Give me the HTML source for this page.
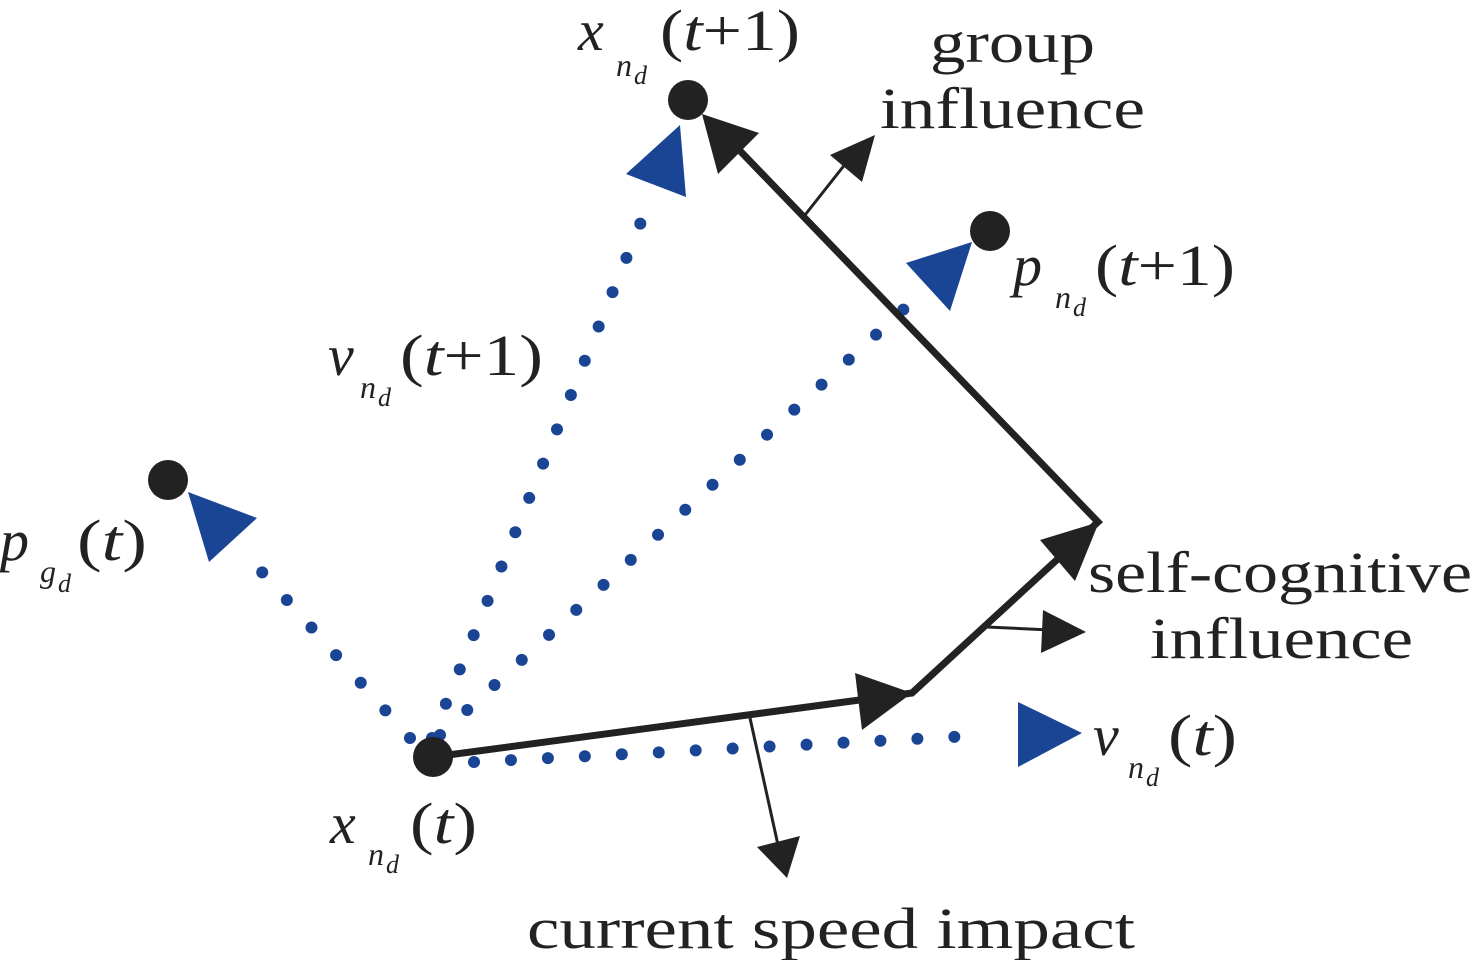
<!DOCTYPE html>
<html><head><meta charset="utf-8"><style>html,body{margin:0;padding:0;background:#fff;}svg{display:block}text{font-family:"Liberation Serif",serif;}</style></head>
<body>
<svg width="1480" height="960" viewBox="0 0 1480 960" xmlns="http://www.w3.org/2000/svg" fill="#222">
<g stroke="#1a4494" stroke-width="12" stroke-linecap="round" stroke-dasharray="0 37" fill="none">
<line x1="432" y1="738" x2="645" y2="212"/>
<line x1="440" y1="735" x2="905" y2="308"/>
<line x1="410" y1="738" x2="253" y2="562"/>
<line x1="474" y1="762" x2="990" y2="735"/>
</g>
<g fill="#1a4494">
<polygon points="680,125 626,174 686,197"/>
<polygon points="906,263 972,242 950,311"/>
<polygon points="188,492 257,518 209,562"/>
<polygon points="1018,702 1082,733 1018,767"/>
</g>
<g stroke="#222" stroke-width="7" fill="none" stroke-linejoin="miter">
<polyline points="433,757 912,693 1098,522 718,128"/>
</g>
<g stroke="#222" stroke-width="3" fill="none">
<line x1="805" y1="215" x2="850" y2="158"/>
<line x1="987" y1="627" x2="1050" y2="630"/>
<line x1="750" y1="718" x2="778" y2="845"/>
</g>
<g fill="#222">
<polygon points="702,114 718,174 759,133"/>
<polygon points="912,693 855,673 862,730"/>
<polygon points="1099,522 1040,540 1075,581"/>
<polygon points="875,135 830,155 862,182"/>
<polygon points="1086,632 1043,610 1041,653"/>
<polygon points="787,878 757,847 800,836"/>
<circle cx="688" cy="100" r="20"/>
<circle cx="990" cy="231" r="20"/>
<circle cx="168" cy="480" r="20"/>
<circle cx="433" cy="757" r="20"/>
</g>
<g font-size="58">
<text x="578" y="50" font-style="italic">x</text>
<text x="616" y="76" font-size="32" font-style="italic">n</text><text x="634" y="84" font-size="26" font-style="italic">d</text>
<text x="660" y="50" textLength="140" lengthAdjust="spacingAndGlyphs">(<tspan font-style="italic">t</tspan>+1)</text>

<text x="930" y="62" textLength="165" lengthAdjust="spacingAndGlyphs">group</text>
<text x="880" y="128" textLength="265" lengthAdjust="spacingAndGlyphs">influence</text>

<text x="1013" y="285" font-style="italic">p</text>
<text x="1055" y="308" font-size="32" font-style="italic">n</text><text x="1073" y="316" font-size="26" font-style="italic">d</text>
<text x="1095" y="285" textLength="140" lengthAdjust="spacingAndGlyphs">(<tspan font-style="italic">t</tspan>+1)</text>

<text x="328" y="375" font-style="italic">v</text>
<text x="360" y="398" font-size="32" font-style="italic">n</text><text x="378" y="406" font-size="26" font-style="italic">d</text>
<text x="400" y="375" textLength="143" lengthAdjust="spacingAndGlyphs">(<tspan font-style="italic">t</tspan>+1)</text>

<text x="0" y="560" font-style="italic">p</text>
<text x="40" y="582" font-size="32" font-style="italic">g</text><text x="58" y="592" font-size="26" font-style="italic">d</text>
<text x="77" y="560" textLength="70" lengthAdjust="spacingAndGlyphs">(<tspan font-style="italic">t</tspan>)</text>

<text x="1088" y="592" textLength="384" lengthAdjust="spacingAndGlyphs">self-cognitive</text>
<text x="1150" y="658" textLength="263" lengthAdjust="spacingAndGlyphs">influence</text>

<text x="1093" y="755" font-style="italic">v</text>
<text x="1128" y="778" font-size="32" font-style="italic">n</text><text x="1146" y="786" font-size="26" font-style="italic">d</text>
<text x="1168" y="755" textLength="69" lengthAdjust="spacingAndGlyphs">(<tspan font-style="italic">t</tspan>)</text>

<text x="330" y="843" font-style="italic">x</text>
<text x="368" y="865" font-size="32" font-style="italic">n</text><text x="386" y="873" font-size="26" font-style="italic">d</text>
<text x="410" y="843" textLength="67" lengthAdjust="spacingAndGlyphs">(<tspan font-style="italic">t</tspan>)</text>

<text x="527" y="948" textLength="608" lengthAdjust="spacingAndGlyphs">current speed impact</text>
</g>
</svg>
</body></html>
